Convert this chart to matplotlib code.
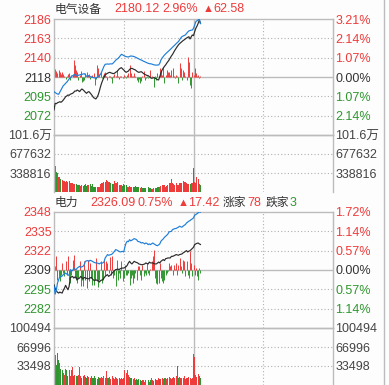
import numpy as np
import matplotlib.pyplot as plt

plt.rcParams['font.family'] = ['Liberation Sans', 'Noto Sans CJK SC', 'DejaVu Sans']

W, H = 389, 385

# ---- panel 1: 电气设备 ----
name1 = '电气设备'
head1 = [('2180.12', 'r'), ('2.96%', 'r'), ('▲', 'r'), ('62.58', 'r')]
prev1 = 2117.54
span_pct1 = 3.21
blue1 = [
    2100.4, 2099.2, 2098.4, 2097.6, 2097.3, 2099.8, 2102.3, 2104.9, 2107.4, 2108.6,
    2110.2, 2111.5, 2113.3, 2115.2, 2116.8, 2118.0, 2119.1, 2119.6, 2120.7, 2119.5,
    2118.7, 2119.6, 2119.9, 2120.4, 2120.7, 2121.0, 2121.5, 2120.0, 2118.3, 2118.9,
    2119.1, 2118.2, 2117.6, 2117.2, 2116.8, 2116.5, 2116.0, 2117.1, 2118.0, 2119.2,
    2120.7, 2123.5, 2126.9, 2130.1, 2132.4, 2132.6, 2132.8, 2132.6, 2132.8, 2133.0,
    2132.8, 2134.0, 2135.5, 2137.0, 2138.3, 2139.2, 2140.6, 2142.5, 2144.1, 2143.5,
    2142.6, 2142.0, 2141.4, 2141.2, 2141.0, 2141.6, 2142.2, 2142.0, 2141.8, 2141.4,
    2140.8, 2140.1, 2139.4, 2138.8, 2138.0, 2137.5, 2136.8, 2136.0, 2135.5, 2134.8,
    2134.2, 2133.6, 2133.2, 2133.0, 2132.8, 2132.2, 2131.8, 2131.6, 2131.4, 2131.6,
    2131.6, 2133.6, 2137.5, 2139.8, 2141.5, 2143.3, 2144.6, 2146.0, 2147.2, 2148.5,
    2149.8, 2151.1, 2152.5, 2153.8, 2155.1, 2156.5, 2157.8, 2159.0, 2161.0, 2163.2,
    2164.8, 2165.5, 2166.2, 2166.8, 2168.6, 2170.2, 2171.5, 2172.0, 2172.4, 2172.6,
    2174.6, 2178.5, 2182.4, 2183.5, 2184.3, 2185.5, 2180.1]
black1 = [
    2078.9, 2086.7, 2086.2, 2087.4, 2087.9, 2088.6, 2087.9, 2089.0, 2090.6, 2092.4,
    2094.5, 2095.3, 2096.5, 2096.0, 2097.3, 2097.9, 2098.4, 2099.6, 2101.2, 2101.0,
    2102.3, 2101.5, 2100.4, 2102.2, 2103.5, 2102.5, 2101.2, 2099.6, 2098.4, 2099.8,
    2100.4, 2099.0, 2097.3, 2095.5, 2093.4, 2092.6, 2091.8, 2093.8, 2096.5, 2101.0,
    2106.2, 2110.5, 2114.1, 2117.2, 2119.9, 2121.0, 2121.9, 2122.6, 2123.0, 2122.4,
    2121.9, 2121.5, 2121.9, 2123.0, 2123.8, 2125.2, 2126.9, 2127.8, 2128.5, 2127.0,
    2125.8, 2124.2, 2123.0, 2123.8, 2124.5, 2126.4, 2127.4, 2127.7, 2127.0, 2126.4,
    2125.8, 2124.6, 2123.6, 2123.0, 2123.4, 2123.8, 2122.8, 2121.6, 2120.7, 2120.0,
    2119.4, 2119.1, 2118.0, 2116.8, 2116.0, 2116.4, 2116.8, 2116.2, 2115.2, 2114.4,
    2114.1, 2118.0, 2122.5, 2125.8, 2128.0, 2130.0, 2131.6, 2133.8, 2135.6, 2137.5,
    2140.0, 2142.2, 2144.1, 2146.6, 2149.0, 2151.1, 2153.2, 2155.1, 2156.6, 2157.8,
    2159.0, 2160.2, 2161.1, 2162.1, 2163.2, 2164.0, 2164.8, 2162.1, 2164.5, 2166.8,
    2166.0, 2170.7, 2174.6, 2177.2, 2180.4, 2184.3, 2180.4]
force1 = [
    10.2, 9.0, 7.0, 5.0, 8.2, 6.2, 4.0, 5.5, 3.1, 1.5,
    -2.3, 1.2, 3.0, 4.3, -3.5, 2.0, 3.1, 19.9, 14.1, 8.2,
    5.5, -3.5, 2.5, 7.0, -5.5, -4.7, -3.5, 4.3, 6.2, 2.0,
    3.1, -2.3, 1.5, 2.3, 4.3, -9.4, -2.0, 14.1, 10.2, 4.0,
    6.2, -1.6, 2.0, 4.3, 5.5, 1.5, -3.5, 0.8, 1.2, -1.0,
    -7.4, 1.5, 3.1, 0.8, 8.2, 1.5, -2.3, 0.8, 1.2, -1.6,
    2.3, 0.8, -1.6, 2.3, 4.3, 14.1, 4.3, 1.0, 0.8, 4.3,
    1.0, -3.5, -5.5, -2.0, -7.4, -4.7, 1.0, 7.0, -3.5, -1.6,
    0.8, -1.6, 0.5, 8.2, 1.0, 0.5, -11.3, 0.8, -3.5, 4.3,
    1.5, 10.2, 8.2, 2.5, 12.1, -7.4, 2.0, 8.2, 6.2, 6.2,
    2.0, 8.2, 10.2, 1.5, -1.6, 2.3, 1.2, -7.4, 16.0, 10.2,
    -3.5, 8.2, 6.2, 1.0, -3.5, 23.8, 18.0, -9.4, -13.3, 6.2,
    2.0, 10.2, 4.3, 1.5, 2.3, -1.6, 1.0]
vol1_k = [
    951, 464, 363, 333, 262, 262, 226, 214, 202, 202,
    184, 202, 184, 202, 166, 155, 166, 143, 143, 143,
    125, 125, 125, 107, 125, 107, 125, 143, 107, 125,
    125, 135, 107, 135, 95, 95, 95, 83, 95, 95,
    135, 166, 155, 184, 184, 214, 202, 184, 184, 155,
    150, 143, 202, 155, 155, 184, 125, 125, 125, 107,
    135, 125, 125, 95, 95, 107, 95, 83, 95, 95,
    107, 83, 83, 83, 65, 83, 65, 65, 65, 65,
    83, 83, 65, 65, 48, 60, 65, 65, 65, 83,
    83, 95, 107, 125, 125, 125, 95, 107, 125, 155,
    155, 226, 155, 143, 125, 155, 125, 125, 155, 155,
    166, 202, 184, 184, 155, 143, 143, 143, 155, 155,
    434, 184, 155, 262, 226, 143, 120]
vmax1 = 1016448
price_labels1 = ['2186', '2163', '2140', '2118', '2095', '2072']
pct_labels1 = ['3.21%', '2.14%', '1.07%', '0.00%', '1.07%', '2.14%']
vol_labels1 = ['101.6万', '677632', '338816']

# ---- panel 2: 电力 ----
name2 = '电力'
head2 = [('2326.09', 'r'), ('0.75%', 'r'), ('▲', 'r'), ('17.42', 'r'),
         ('涨家', 'k'), ('78', 'r'), ('跌家', 'k'), ('3', 'g')]
prev2 = 2308.67
span_pct2 = 1.716
blue2 = [
    2297.5, 2292.2, 2295.0, 2299.8, 2302.0, 2304.3, 2304.0, 2304.6, 2305.5, 2306.0,
    2306.6, 2305.9, 2305.3, 2305.0, 2308.9, 2308.4, 2308.2, 2310.0, 2309.3, 2308.9,
    2310.0, 2310.6, 2311.2, 2310.5, 2310.9, 2311.2, 2312.3, 2314.6, 2314.9, 2315.1,
    2314.6, 2315.3, 2315.0, 2314.6, 2314.1, 2313.7, 2313.5, 2313.5, 2313.2, 2312.8,
    2313.5, 2313.3, 2313.5, 2314.1, 2316.9, 2318.0, 2319.2, 2318.7, 2319.0, 2319.2,
    2319.6, 2320.5, 2321.4, 2322.6, 2322.3, 2321.9, 2321.4, 2321.0, 2321.2, 2321.4,
    2321.0, 2324.5, 2327.1, 2328.3, 2328.0, 2329.4, 2328.6, 2329.0, 2329.6, 2330.1,
    2329.8, 2329.4, 2328.3, 2328.0, 2327.8, 2327.1, 2327.4, 2327.1, 2326.5, 2327.1,
    2326.8, 2326.0, 2326.5, 2326.0, 2326.6, 2327.1, 2326.5, 2326.0, 2325.5, 2325.3,
    2325.8, 2326.5, 2328.3, 2329.2, 2329.9, 2331.0, 2331.7, 2332.4, 2333.3, 2334.7,
    2334.9, 2335.1, 2336.3, 2336.6, 2337.0, 2337.0, 2337.5, 2337.9, 2338.6, 2338.2,
    2337.9, 2338.6, 2339.2, 2339.7, 2340.8, 2341.4, 2342.0, 2342.4, 2343.1, 2343.6,
    2344.3, 2346.1, 2346.5, 2347.1, 2347.7, 2348.4, 2348.2]
black2 = [
    2298.6, 2296.0, 2294.5, 2293.5, 2292.9, 2293.6, 2293.2, 2292.9, 2294.8, 2296.3,
    2298.2, 2296.5, 2295.2, 2297.5, 2303.2, 2304.0, 2304.3, 2303.2, 2303.9, 2303.6,
    2302.0, 2302.8, 2303.2, 2304.3, 2303.4, 2302.7, 2303.6, 2303.2, 2303.0, 2302.7,
    2302.7, 2303.2, 2303.6, 2302.7, 2301.8, 2301.4, 2302.0, 2301.6, 2301.4, 2300.4,
    2301.4, 2301.8, 2302.0, 2303.2, 2304.3, 2304.9, 2305.5, 2304.3, 2304.9, 2305.5,
    2306.6, 2307.4, 2308.2, 2308.9, 2309.1, 2309.3, 2308.9, 2309.6, 2309.8, 2310.0,
    2310.0, 2310.5, 2310.9, 2311.9, 2313.5, 2314.6, 2313.5, 2312.8, 2313.7, 2314.6,
    2314.1, 2313.8, 2313.5, 2312.8, 2312.6, 2312.3, 2312.3, 2312.5, 2312.8, 2313.5,
    2313.1, 2312.8, 2314.1, 2313.5, 2313.5, 2313.5, 2313.0, 2312.8, 2312.8, 2313.4,
    2314.1, 2313.5, 2314.6, 2315.2, 2315.8, 2315.1, 2316.4, 2316.6, 2316.9, 2316.9,
    2316.9, 2318.0, 2318.0, 2318.3, 2318.7, 2319.2, 2319.0, 2318.7, 2319.2, 2319.4,
    2319.6, 2320.3, 2320.8, 2321.4, 2321.9, 2321.0, 2321.5, 2321.9, 2322.6, 2323.4,
    2324.2, 2326.0, 2326.5, 2326.9, 2327.1, 2326.5, 2326.1]
force2 = [
    13.2, 3.0, 9.4, -6.6, -4.3, -7.8, -3.2, 4.8, -2.1, -4.3,
    5.9, -3.2, 9.4, -6.6, -8.9, -3.2, 7.1, 10.5, -5.5, -6.6,
    -8.9, -5.5, 5.9, -11.2, -6.6, -11.2, 5.9, -6.6, -12.3, 7.1,
    -7.8, 4.8, -5.5, -10.0, -10.0, -6.6, 8.2, -7.8, -11.9, -6.6,
    5.9, -8.9, -6.6, 7.1, -4.3, 5.9, 4.8, -2.1, 8.7, -3.2,
    9.4, -5.5, -3.2, -11.2, 7.1, -6.6, -2.1, -5.5, 5.9, -7.8,
    -5.5, 3.7, -3.2, -3.2, -2.1, -10.0, -5.5, -3.2, -8.9, -5.5,
    -2.1, -6.6, 2.5, 2.5, -3.2, -6.6, 3.2, -4.3, -2.1, -3.2,
    4.8, -2.1, -3.2, 1.0, 5.9, 9.4, 13.9, -5.5, -8.9, -9.6,
    -8.9, 4.8, -5.5, -7.8, -8.9, -6.6, -3.2, -2.1, -0.9, 4.8,
    2.5, 3.7, -3.2, 3.7, 1.0, 4.8, -3.2, 3.7, 8.2, 2.5,
    -2.1, 7.1, 5.9, -4.3, 5.9, -3.2, -5.5, 12.8, 4.8, -4.3,
    3.2, -3.2, 1.5, -4.3, -6.6, 1.4, -2.1]
vol2_k = [
    94, 53, 35, 57, 44, 38, 29, 26, 21, 18,
    28, 26, 15, 27, 16, 27, 31, 15, 18, 16,
    15, 18, 31, 16, 12, 15, 18, 14, 12, 15,
    14, 12, 16, 13, 12, 15, 12, 11, 14, 12,
    12, 14, 12, 15, 13, 25, 13, 12, 14, 11,
    15, 12, 10, 14, 12, 11, 13, 10, 12, 11,
    13, 26, 22, 27, 18, 14, 12, 13, 10, 12,
    9, 11, 8, 10, 9, 7, 8, 9, 6, 8,
    7, 9, 6, 8, 12, 9, 7, 10, 8, 9,
    12, 10, 11, 13, 10, 12, 13, 11, 12, 14,
    13, 11, 12, 14, 12, 15, 33, 13, 14, 12,
    13, 12, 15, 11, 13, 12, 14, 13, 11, 13,
    54, 50, 17, 14, 20, 15, 12]
vmax2 = 100494
price_labels2 = ['2348', '2335', '2322', '2309', '2295', '2282']
pct_labels2 = ['1.72%', '1.14%', '0.57%', '0.00%', '0.57%', '1.14%']
vol_labels2 = ['100494', '66996', '33498']

RED = '#ee3b3b'
GREEN = '#2f962f'
DARK = '#333333'
GRAY = '#444444'
FRAME = '#bcbcbc'
DOT = '#b0b0b0'
BLUE = '#1f7fd8'
LINE = '#2b2b2b'
cmap = {'r': RED, 'g': GREEN, 'k': DARK}

fig = plt.figure(figsize=(W / 100, H / 100), dpi=100, facecolor='#fdfdfd')

L, PW, PH, VH = 54, 279, 116, 57


def style(ax, levels, solid_levels):
    ax.set_facecolor('none')
    ax.set_xlim(0, 240)
    for s in ax.spines.values():
        s.set_color(FRAME)
        s.set_linewidth(1.0)
    for lv in levels:
        if lv in solid_levels:
            ax.axhline(lv, color=FRAME, lw=1.0, zorder=1)
        else:
            ax.axhline(lv, color=DOT, lw=0.8, ls=(0, (1, 2)), zorder=1)
    ax.axvline(60, color=DOT, lw=0.8, ls=(0, (1, 2)), zorder=1)
    ax.axvline(180, color=DOT, lw=0.8, ls=(0, (1, 2)), zorder=1)
    ax.axvline(120, color=FRAME, lw=1.0, zorder=1)
    ax.set_xticks([])
    ax.tick_params(axis='y', length=0, labelsize=9, pad=1.8)


def panel(top, name, head, head_x, prev, span_pct, blue, black, force, vol_k,
          vmax, price_labels, pct_labels, vol_labels):
    span = prev * span_pct / 100
    ax = fig.add_axes([L / W, 1 - (top + PH) / H, PW / W, PH / H])
    av = fig.add_axes([L / W, 1 - (top + PH + VH) / H, PW / W, VH / H])

    levels = [prev + k * span / 3 for k in (3, 2, 1, 0, -1, -2)]
    ax.set_ylim(prev - span, prev + span)
    style(ax, levels[1:], [prev])
    ax.set_yticks(levels)
    ax.set_yticklabels(price_labels)
    ax2 = ax.secondary_yaxis('right')
    ax2.set_yticks(levels)
    ax2.set_yticklabels(pct_labels)
    ax2.tick_params(length=0, labelsize=9, pad=1.8)
    ax2.spines['right'].set_color(FRAME)
    for i, (t1, t2) in enumerate(zip(ax.get_yticklabels(), ax2.get_yticklabels())):
        c = RED if i < 3 else (DARK if i == 3 else GREEN)
        t1.set_color(c)
        t2.set_color(c)

    x = np.arange(len(blue))
    f = np.array(force)
    ax.vlines(x, prev, prev + f, colors=[RED if v > 0 else GREEN for v in f],
              lw=0.7, zorder=2)
    ax.plot(x, black, color=LINE, lw=0.85, zorder=3)
    ax.plot(x, blue, color=BLUE, lw=0.85, zorder=4)

    vlev = [vmax, vmax * 2 / 3, vmax / 3]
    av.set_ylim(0, vmax)
    style(av, vlev[1:], [])
    av.spines['bottom'].set_visible(False)
    av.set_yticks(vlev)
    av.set_yticklabels(vol_labels)
    av.tick_params(axis='y', labelright=True, labelcolor=GRAY)
    up = np.diff(np.array(black), prepend=black[0]) >= 0
    av.bar(x, np.array(vol_k) * 1000, width=0.85, linewidth=0,
           color=[RED if u else GREEN for u in up], zorder=2)

    ty = 1 - (top - 9.5) / H
    fig.text(55 / W, ty, name, color=DARK, fontsize=8.5, va='center')
    for (txt, c), hx in zip(head, head_x):
        fs = 9 if txt[0].isdigit() else 8.5
        if txt == '▲':
            fs = 8
        fig.text(hx / W, ty, txt, color=cmap[c], fontsize=fs, va='center')


panel(19, name1, head1, [114, 162, 203, 213], prev1, span_pct1, blue1, black1,
      force1, vol1_k, vmax1, price_labels1, pct_labels1, vol_labels1)
panel(212, name2, head2, [90, 137, 178, 188, 223, 247, 266, 290], prev2,
      span_pct2, blue2, black2, force2, vol2_k, vmax2, price_labels2,
      pct_labels2, vol_labels2)

fig.add_artist(plt.Line2D([383.5 / W, 383.5 / W], [0, 1], color=FRAME, lw=1.0))

fig.savefig('out.png', dpi=100, facecolor=fig.get_facecolor())
